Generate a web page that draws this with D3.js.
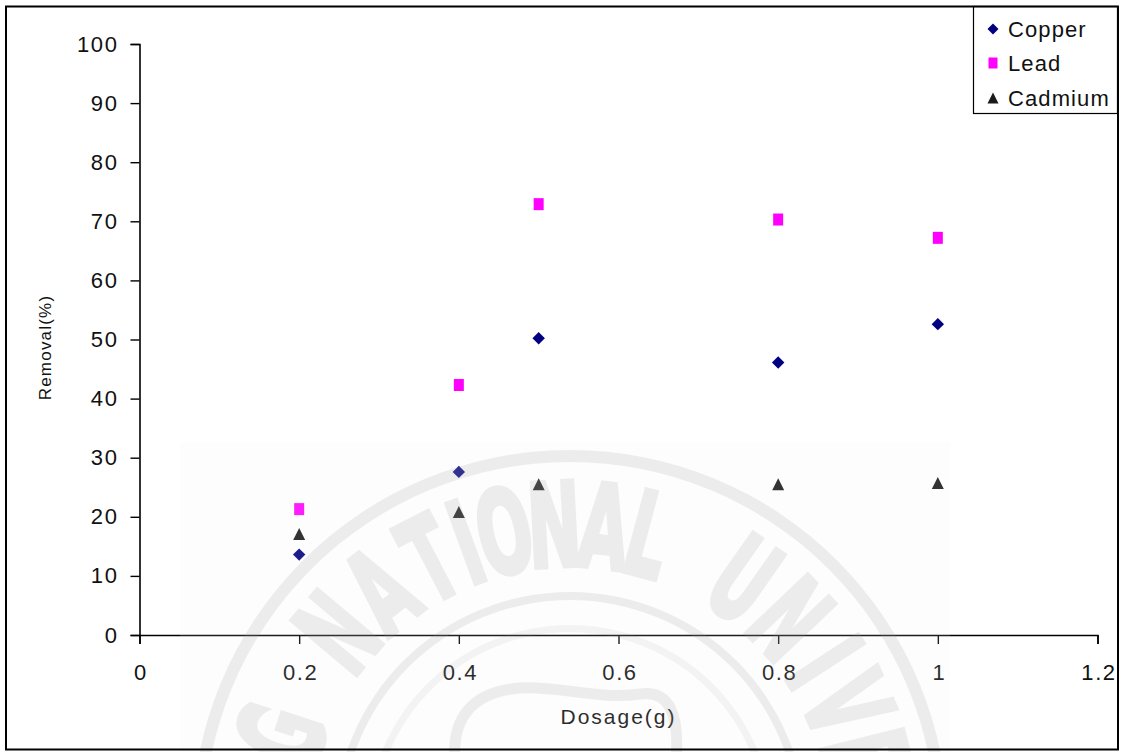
<!DOCTYPE html>
<html>
<head>
<meta charset="utf-8">
<script src="https://cdn.jsdelivr.net/npm/d3@7/dist/d3.min.js"></script>
<style>
  html, body { margin: 0; padding: 0; background: #fff; }
  svg { display: block; }
  text { font-family: "Liberation Sans", Arial, sans-serif; fill: #111; }
</style>
</head>
<body>
<svg id="chart" width="1126" height="752"></svg>
<script>
// Dosage (g) of adsorbent and removal efficiency (%) per metal
const dosage = [0.2, 0.4, 0.5, 0.8, 1.0];
const copper = [13.6, 27.6, 50.2, 46.1, 52.6];
const lead = [21.3, 42.3, 72.9, 70.3, 67.2];
const cadmium = [17.1, 20.8, 25.5, 25.5, 25.7];
const seriesNames = ["Copper", "Lead", "Cadmium"];
const xTicks = [0, 0.2, 0.4, 0.6, 0.8, 1, 1.2];
const yTicks = [0, 10, 20, 30, 40, 50, 60, 70, 80, 90, 100];
const sealLetters = ["G", "N", "A", "T", "I", "O", "N", "A", "L", "U", "N", "I", "V", "E"];
const sealAngles = [-72, -50, -38.5, -27.5, -20, -12.5, -3, 6.5, 15, 35, 46.5, 57, 66, 76];

const svg = d3.select("#chart");
const W = 1126, H = 752;

const x = d3.scaleLinear().domain([0, 1.2]).range([139.5, 1097.5]);
const y = d3.scaleLinear().domain([0, 100]).range([635, 44]);

// x axis
const xAxis = svg.append("g")
  .attr("transform", `translate(0,${y(0)})`)
  .call(d3.axisBottom(x).tickValues(xTicks).tickFormat(d3.format("")).tickSizeOuter(0).tickSize(9).tickPadding(20));
// y axis
const yAxis = svg.append("g")
  .attr("transform", `translate(${x(0)},0)`)
  .call(d3.axisLeft(y).tickValues(yTicks).tickSizeOuter(0).tickSize(9).tickPadding(14));

[xAxis, yAxis].forEach(g => {
  g.select(".domain").attr("stroke", "#000").attr("stroke-width", 1.6);
  g.selectAll(".tick line").attr("stroke", "#000").attr("stroke-width", 1.4);
  g.selectAll(".tick text")
    .style("font-family", "'Liberation Sans', Arial, sans-serif")
    .style("font-size", "22px")
    .style("letter-spacing", "1.6px")
    .attr("fill", "#111");
});
xAxis.selectAll(".tick text").attr("dx", "1px");
yAxis.selectAll(".tick text").attr("dx", "2px");

// axis titles
svg.append("text")
  .attr("x", (x(0) + x(1.2)) / 2).attr("y", 724)
  .attr("text-anchor", "middle")
  .style("font-size", "21px").style("letter-spacing", "2px")
  .text("Dosage(g)");

svg.append("text")
  .attr("transform", `translate(51,${(y(0) + y(100)) / 2 + 8}) rotate(-90)`)
  .attr("text-anchor", "middle")
  .style("font-size", "17px").style("letter-spacing", "1.2px")
  .text("Removal(%)");

// marker shapes
const diamond = s => `M0,${-s}L${s},0L0,${s}L${-s},0Z`;
const triangle = (w, h) => `M0,${-h / 2}L${w / 2},${h / 2}L${-w / 2},${h / 2}Z`;

const copperColor = "#000080", leadColor = "#ff00ff", cadColor = "#1a1a1a";

const pts = svg.append("g");
pts.selectAll(".cu").data(dosage).join("path")
  .attr("transform", (d, i) => `translate(${x(d)},${y(copper[i])})`)
  .attr("d", diamond(6.2)).attr("fill", copperColor);
pts.selectAll(".pb").data(dosage).join("rect")
  .attr("x", d => x(d) - 5).attr("width", 10)
  .attr("y", (d, i) => y(lead[i]) - 6).attr("height", 12)
  .attr("fill", leadColor);
pts.selectAll(".cd").data(dosage).join("path")
  .attr("transform", (d, i) => `translate(${x(d)},${y(cadmium[i])})`)
  .attr("d", triangle(12, 12)).attr("fill", cadColor);

// faint seal over the lower part of the page
const seal = svg.append("g");
seal.append("rect")
  .attr("x", 180).attr("y", 442).attr("width", 770).attr("height", H - 442)
  .attr("fill", "#eeeeee").attr("opacity", 0.12);
const cx = 570, cy = 828;
const inkColor = "#9a9a9a";
const ink = seal.append("g").attr("opacity", 0.16).attr("fill", inkColor).attr("stroke", "none");
const ring = (r0, r1) => d3.arc()({ innerRadius: r0, outerRadius: r1, startAngle: 0, endAngle: 2 * Math.PI });
ink.append("path").attr("transform", `translate(${cx},${cy})`).attr("d", ring(366, 378));
ink.append("path").attr("transform", `translate(${cx},${cy})`).attr("d", ring(228, 236));
ink.append("path").attr("transform", `translate(${cx},${cy})`).attr("d", ring(196, 203)).attr("opacity", 0.6);
ink.append("path")
  .attr("d", "M455,760 C452,720 470,692 520,688 C560,686 600,700 640,694 C668,690 680,712 676,760")
  .attr("fill", "none").attr("stroke", inkColor).attr("stroke-width", 11);

ink.selectAll(".seal-letter").data(sealLetters.map((c, i) => ({ c, a: sealAngles[i] }))).join("text")
  .attr("transform", d => {
    const rad = d.a * Math.PI / 180;
    const r = 262;
    return `translate(${cx + r * Math.sin(rad)},${cy - r * Math.cos(rad)}) rotate(${d.a}) scale(0.55,1)`;
  })
  .attr("text-anchor", "middle")
  .style("font-family", "'DejaVu Sans', sans-serif")
  .style("font-weight", "bold")
  .style("font-size", "116px")
  .style("fill", inkColor)
  .attr("stroke", inkColor).attr("stroke-width", 5)
  .text(d => d.c);

// legend
const lg = svg.append("g");
lg.append("rect").attr("x", 973.5).attr("y", 6.5).attr("width", 144).attr("height", 107)
  .attr("fill", "#fff").attr("stroke", "#000").attr("stroke-width", 1.2);
const legendRows = [29, 63, 98];
lg.append("path").attr("transform", `translate(993,${legendRows[0]})`).attr("d", diamond(5.5)).attr("fill", copperColor);
lg.append("rect").attr("x", 988.5).attr("y", legendRows[1] - 5.5).attr("width", 9).attr("height", 11).attr("fill", leadColor);
lg.append("path").attr("transform", `translate(993,${legendRows[2]})`).attr("d", triangle(11, 11)).attr("fill", cadColor);
lg.selectAll(".lt").data(seriesNames).join("text")
  .attr("x", 1008).attr("y", (d, i) => legendRows[i] + 8)
  .style("font-size", "22px").style("letter-spacing", "1.1px")
  .text(d => d);

// outer frame
svg.append("rect").attr("x", 6).attr("y", 6.5).attr("width", 1112).attr("height", 743)
  .attr("fill", "none").attr("stroke", "#000").attr("stroke-width", 2);
</script>
</body>
</html>
